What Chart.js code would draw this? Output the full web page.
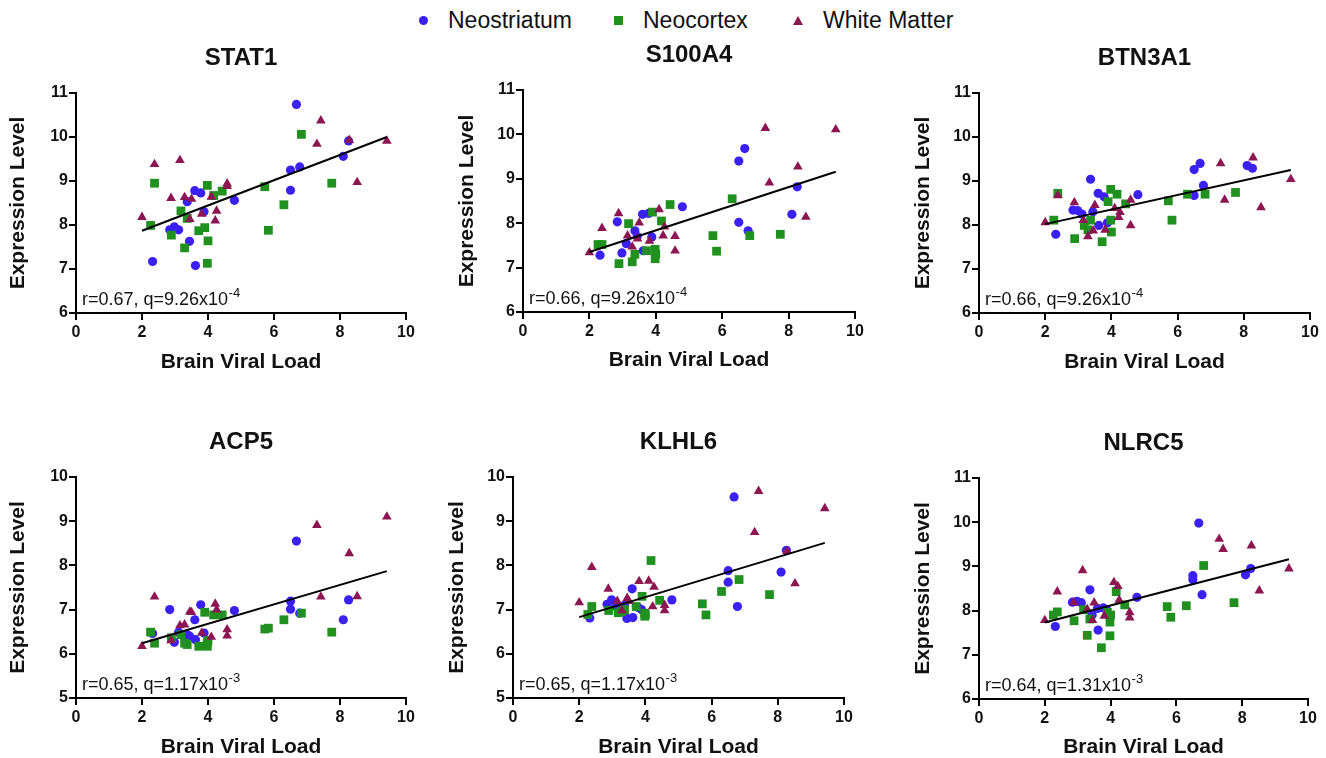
<!DOCTYPE html>
<html>
<head>
<meta charset="utf-8">
<script src="https://cdn.jsdelivr.net/npm/chart.js@4.4.1/dist/chart.umd.min.js"></script>
<style>
  body { margin: 0; background: #fff; width: 1326px; height: 758px; position: relative; overflow: hidden;
         font-family: "Liberation Sans", Arial, Helvetica, sans-serif; }
  canvas { position: absolute; }
  .legText { position: absolute; font-size: 23px; line-height: 23px; color: #111; white-space: nowrap; }
  .mk { position: absolute; }
</style>
</head>
<body>
<div id="legend"></div>

<script>
// --- data ---
const genes = ['STAT1', 'S100A4', 'BTN3A1', 'ACP5', 'KLHL6', 'NLRC5'];
const seriesNames = ['Neostriatum', 'Neocortex', 'White Matter'];

// brain viral load per sample (same samples in every panel)
const striatumX = [2.32, 2.84, 2.98, 3.11, 3.37, 3.44, 3.60, 3.62, 3.78, 3.88, 4.80, 6.50, 6.50, 6.68, 6.78, 8.10, 8.26];
const cortexX = [2.26, 2.38, 2.89, 3.18, 3.29, 3.37, 3.72, 3.90, 3.98, 3.98, 4.00, 4.17, 4.43, 5.72, 5.83, 6.30, 6.83, 7.75];
const whiteX = [2.00, 2.38, 2.88, 3.15, 3.29, 3.45, 3.50, 3.81, 4.10, 4.22, 4.26, 4.58, 4.58, 7.30, 7.42, 8.28, 8.52, 9.42];

// expression level, one row per gene
const striatumY = [
  [7.17, 7.89, 7.96, 7.89, 8.53, 7.63, 8.78, 7.08, 8.73, 8.30, 8.56, 9.25, 8.79, 10.74, 9.32, 9.56, 9.91],
  [7.28, 8.03, 7.33, 7.54, 7.83, 7.70, 8.20, 7.38, 8.22, 7.69, 8.37, 9.40, 8.02, 9.68, 7.83, 8.20, 8.82],
  [7.79, 8.34, 8.33, 8.25, 9.04, 8.30, 8.72, 7.99, 8.64, 8.05, 8.69, 9.26, 8.67, 9.40, 8.90, 9.35, 9.29],
  [6.46, 7.00, 6.26, 6.49, 6.43, 6.40, 6.77, 6.32, 7.11, 6.47, 6.98, 7.19, 7.01, 8.55, 6.92, 6.77, 7.22],
  [6.81, 7.12, 7.22, 7.07, 7.10, 6.80, 7.47, 6.82, 7.05, 7.00, 7.22, 7.88, 7.62, 9.55, 7.07, 7.85, 8.34],
  [7.64, 8.19, 8.21, 8.18, 8.47, 7.90, 8.05, 7.56, 8.06, 8.02, 8.30, 8.79, 8.70, 9.98, 8.36, 8.81, 8.95]
];
const cortexY = [
  [7.99, 8.95, 7.77, 8.32, 7.48, 8.15, 7.87, 7.94, 7.13, 8.90, 7.64, 8.67, 8.77, 8.87, 7.88, 8.46, 10.06, 8.95],
  [7.52, 7.52, 7.09, 7.99, 7.13, 7.30, 7.38, 8.25, 7.41, 7.20, 7.30, 8.05, 8.42, 7.72, 7.37, 8.55, 7.72, 7.75],
  [8.11, 8.72, 7.69, 7.99, 7.89, 8.11, 7.62, 8.53, 8.81, 8.11, 7.84, 8.70, 8.48, 8.55, 8.11, 8.70, 8.70, 8.74],
  [6.49, 6.24, 6.36, 6.43, 6.24, 6.21, 6.17, 6.94, 6.17, 6.25, 6.30, 6.88, 6.88, 6.56, 6.58, 6.77, 6.92, 6.49],
  [6.89, 7.07, 6.98, 6.93, 6.96, 7.00, 7.07, 7.30, 6.85, 6.92, 6.88, 8.11, 7.21, 7.13, 6.88, 7.41, 7.68, 7.34],
  [7.90, 7.97, 7.77, 8.02, 7.44, 7.81, 7.16, 7.96, 7.74, 7.43, 7.90, 8.43, 8.13, 8.09, 7.85, 8.11, 9.02, 8.18]
];
const whiteY = [
  [8.18, 9.38, 8.61, 9.47, 8.63, 8.13, 8.59, 8.25, 8.64, 8.10, 8.32, 8.94, 8.88, 9.84, 10.37, 9.93, 8.97, 9.91],
  [7.34, 7.89, 8.22, 7.72, 7.47, 7.65, 8.01, 7.60, 8.31, 7.72, 7.92, 7.71, 7.38, 10.14, 8.91, 9.27, 8.14, 10.11],
  [8.06, 8.67, 8.51, 8.11, 7.74, 7.87, 8.45, 7.89, 8.38, 8.18, 8.29, 8.57, 7.99, 9.40, 8.57, 9.53, 8.40, 9.04],
  [6.17, 7.29, 6.30, 6.64, 6.66, 6.95, 6.94, 6.47, 6.38, 7.13, 7.00, 6.55, 6.41, 8.91, 7.29, 8.27, 7.30, 9.10],
  [7.16, 7.96, 7.47, 7.19, 6.98, 7.26, 7.19, 7.64, 7.65, 7.07, 7.51, 7.10, 6.98, 8.75, 9.68, 8.32, 7.59, 9.29],
  [7.78, 8.43, 8.18, 8.91, 8.03, 7.78, 8.18, 7.88, 8.64, 8.55, 8.24, 7.96, 7.84, 9.62, 9.39, 9.47, 8.45, 8.95]
];

// regression line ends
const fitX = [2.0, 9.42];
const fitStartY = [7.87, 7.35, 8.02, 6.24, 6.83, 7.73];
const fitEndY = [10.00, 9.16, 9.25, 7.87, 8.51, 9.16];

// stats text
const rValues = ['0.67', '0.66', '0.66', '0.65', '0.65', '0.64'];
const qValues = ['9.26', '9.26', '9.26', '1.17', '1.17', '1.31'];
const qExps = ['-4', '-4', '-4', '-3', '-3', '-3'];

// axes
const yMins = [6, 6, 6, 5, 5, 6];
const yMaxs = [11, 11, 11, 10, 10, 11];
const xMin = 0, xMax = 10, xStep = 2;

// --- look ---
const colors = ['#3b20f4', '#20901f', '#8c1652'];
const pointStyles = ['circle', 'rect', 'triangle'];
const pointSizes = [4.6, 6.2, 5.6];
const font = '"Liberation Sans", Arial, Helvetica, sans-serif';
const ink = '#111';

// canvas box and plot area (canvas coordinates)
const panels = [
  { left: 0,   top: 40,  width: 440, height: 340, L: 76, T: 53, R: 406, B: 273, yTitleX: 18, xTitleY: 322 },
  { left: 440, top: 40,  width: 440, height: 340, L: 83, T: 50, R: 415, B: 272, yTitleX: 27, xTitleY: 320 },
  { left: 880, top: 40,  width: 446, height: 340, L: 99, T: 53, R: 430, B: 273, yTitleX: 43, xTitleY: 322 },
  { left: 0,   top: 420, width: 440, height: 340, L: 76, T: 57, R: 406, B: 278, yTitleX: 18, xTitleY: 327 },
  { left: 440, top: 420, width: 440, height: 340, L: 73, T: 57, R: 404, B: 278, yTitleX: 17, xTitleY: 327 },
  { left: 880, top: 420, width: 446, height: 340, L: 99, T: 58, R: 428, B: 279, yTitleX: 43, xTitleY: 327 }
];

// legend
const legendMarkX = [423, 618, 798];
const legendTextX = [448, 643, 823];
(function buildLegend() {
  const box = document.getElementById('legend');
  seriesNames.forEach((name, i) => {
    const mk = document.createElement('div');
    mk.className = 'mk';
    if (i === 0) {
      mk.style.cssText = `left:${legendMarkX[i] - 4.5}px;top:15.5px;width:9px;height:9px;border-radius:50%;background:${colors[i]}`;
    } else if (i === 1) {
      mk.style.cssText = `left:${legendMarkX[i] - 4.5}px;top:15.5px;width:9px;height:9px;background:${colors[i]}`;
    } else {
      mk.style.cssText = `left:${legendMarkX[i] - 5}px;top:16px;width:0;height:0;border-left:5px solid transparent;border-right:5px solid transparent;border-bottom:9px solid ${colors[i]}`;
    }
    box.appendChild(mk);
    const t = document.createElement('div');
    t.className = 'legText';
    t.style.left = legendTextX[i] + 'px';
    t.style.top = '9px';
    t.textContent = name;
    box.appendChild(t);
  });
})();

// title above plot and r/q note in bottom-left corner
const panelText = {
  id: 'panelText',
  afterDraw(chart, args, opts) {
    const { ctx, chartArea } = chart;
    ctx.save();
    ctx.fillStyle = ink;
    ctx.textBaseline = 'alphabetic';
    ctx.textAlign = 'center';
    ctx.font = 'bold 24px ' + font;
    ctx.fillText(opts.title, (chartArea.left + chartArea.right) / 2, chartArea.top - 28);
    ctx.textAlign = 'left';
    ctx.font = '18px ' + font;
    const main = 'r=' + opts.r + ', q=' + opts.q + 'x10';
    const x0 = chartArea.left + 6;
    const y0 = chartArea.bottom - 8;
    ctx.fillText(main, x0, y0);
    const w = ctx.measureText(main).width;
    ctx.font = '13px ' + font;
    ctx.fillText(opts.exp, x0 + w + 0.5, y0 - 8);
    ctx.restore();
  }
};

const axisTitleFont = { family: font, size: 21, weight: 'bold' };
const tickFont = { family: font, size: 16, weight: 'bold' };
const titleHalf = 21 * 1.2 / 2;

genes.forEach((gene, g) => {
  const p = panels[g];
  const cv = document.createElement('canvas');
  cv.style.left = p.left + 'px';
  cv.style.top = p.top + 'px';
  cv.style.width = p.width + 'px';
  cv.style.height = p.height + 'px';
  cv.width = p.width;
  cv.height = p.height;
  document.body.appendChild(cv);

  const padLeft = p.yTitleX - titleHalf;
  const yWidth = p.L - padLeft;
  const xHeight = p.xTitleY + titleHalf - p.B;
  const padBottom = Math.max(0, p.height - p.B - xHeight);

  const toPoints = (xs, ys) => xs.map((x, i) => ({ x: x, y: ys[i] }));
  const yRows = [striatumY[g], cortexY[g], whiteY[g]];
  const xRows = [striatumX, cortexX, whiteX];

  const datasets = [{
    type: 'line',
    label: 'fit',
    data: [{ x: fitX[0], y: fitStartY[g] }, { x: fitX[1], y: fitEndY[g] }],
    borderColor: '#000',
    borderWidth: 2,
    pointRadius: 0,
    order: 0
  }];
  seriesNames.forEach((name, s) => {
    datasets.push({
      type: 'scatter',
      label: name,
      data: toPoints(xRows[s], yRows[s]),
      pointStyle: pointStyles[s],
      pointRadius: pointSizes[s],
      backgroundColor: colors[s],
      borderColor: colors[s],
      borderWidth: 0,
      order: 3 - s
    });
  });

  new Chart(cv, {
    type: 'scatter',
    data: { datasets: datasets },
    options: {
      responsive: false,
      animation: false,
      events: [],
      layout: { padding: { left: padLeft, top: p.T, right: p.width - p.R, bottom: padBottom } },
      plugins: {
        legend: { display: false },
        tooltip: { enabled: false },
        panelText: { title: gene, r: rValues[g], q: qValues[g], exp: qExps[g] }
      },
      scales: {
        x: {
          type: 'linear', min: xMin, max: xMax,
          ticks: { stepSize: xStep, color: ink, font: tickFont, padding: 3, maxRotation: 0 },
          grid: { drawOnChartArea: false, drawTicks: true, tickLength: 7, color: '#000', lineWidth: 2 },
          border: { color: '#000', width: 2 },
          title: { display: true, text: 'Brain Viral Load', color: ink, font: axisTitleFont, padding: 0 },
          afterFit: (scale) => { scale.height = xHeight; }
        },
        y: {
          type: 'linear', min: yMins[g], max: yMaxs[g],
          ticks: { stepSize: 1, color: ink, font: tickFont, padding: 1 },
          grid: { drawOnChartArea: false, drawTicks: true, tickLength: 7, color: '#000', lineWidth: 2 },
          border: { color: '#000', width: 2 },
          title: { display: true, text: 'Expression Level', color: ink, font: axisTitleFont, padding: 0 },
          afterFit: (scale) => { scale.width = yWidth; }
        }
      }
    },
    plugins: [panelText]
  });
});
</script>
</body>
</html>
